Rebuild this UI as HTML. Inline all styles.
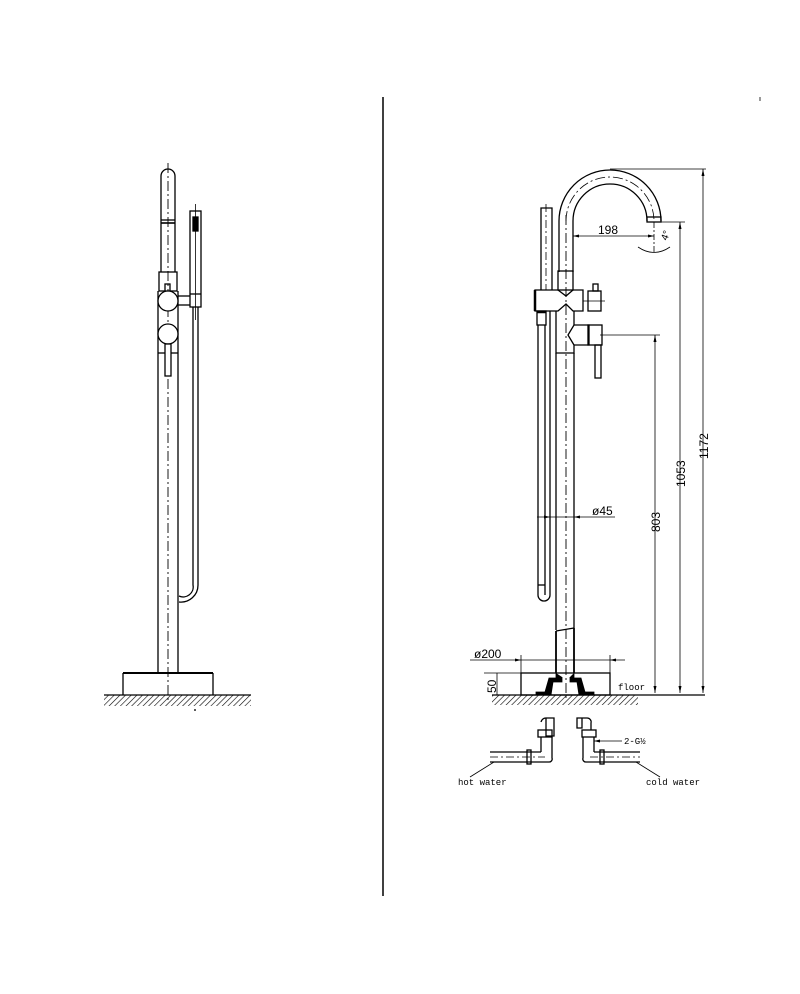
<!DOCTYPE html>
<html><head><meta charset="utf-8"><style>
html,body{margin:0;padding:0;background:#fff}
svg{display:block}
text{font-family:"Liberation Sans",sans-serif;fill:#000}
.m{font-family:"Liberation Mono",monospace}
</style></head><body>
<svg width="800" height="994" viewBox="0 0 800 994" xmlns="http://www.w3.org/2000/svg">
<defs>
<pattern id="h" width="4" height="4" patternUnits="userSpaceOnUse" patternTransform="rotate(45)">
<line x1="0" y1="0" x2="0" y2="4" stroke="#000" stroke-width="1.2"/>
</pattern>
</defs>
<g fill="none" stroke="#000" stroke-width="1.3">
<line x1="383" y1="97" x2="383" y2="896" stroke-width="1.5"/>
<line x1="760" y1="97" x2="760" y2="101" stroke-width="0.8"/>

<!-- LEFT VIEW -->
<line x1="168" y1="163" x2="168" y2="703" stroke-dasharray="10,3,2,3" stroke-width="0.9"/>
<path d="M161 272 V176 A7 7 0 0 1 175 176 V272"/>
<line x1="161" y1="220" x2="175" y2="220"/>
<line x1="161" y1="223" x2="175" y2="223" stroke-width="1.6"/>
<rect x="159" y="272" width="18" height="19"/>
<rect x="165" y="284" width="5" height="8"/>
<line x1="158" y1="291" x2="158" y2="673"/>
<line x1="178" y1="291" x2="178" y2="673"/>
<circle cx="168" cy="301" r="10" fill="#fff"/>
<circle cx="168" cy="334" r="10" fill="#fff"/>
<rect x="165" y="344" width="6" height="32" fill="#fff"/>
<line x1="158" y1="353" x2="165" y2="353"/>
<line x1="171" y1="353" x2="178" y2="353"/>
<rect x="190" y="211" width="11" height="96"/>
<rect x="193" y="217" width="5" height="14" fill="#000"/>
<line x1="195.5" y1="204" x2="195.5" y2="320" stroke-width="0.8"/>
<line x1="178" y1="296" x2="190" y2="296"/>
<line x1="178" y1="305" x2="190" y2="305"/>
<line x1="190" y1="294" x2="201" y2="294"/>
<path d="M193 307 V585 A10 10 0 0 1 179 596"/>
<path d="M198 307 V585 A17 17 0 0 1 179 602"/>
<line x1="123" y1="673" x2="213" y2="673" stroke-width="2"/>
<line x1="123" y1="673" x2="123" y2="695"/>
<line x1="213" y1="673" x2="213" y2="695"/>
<line x1="104" y1="695" x2="251" y2="695"/>
<rect x="104" y="695" width="147" height="11" fill="url(#h)" stroke="none"/>
<line x1="195" y1="709" x2="195" y2="711"/>

<!-- RIGHT VIEW -->
<line x1="566" y1="215" x2="566" y2="700" stroke-dasharray="10,3,2,3" stroke-width="0.9"/>
<path d="M559 272 V221 A51 51 0 0 1 661 221"/>
<path d="M573 272 V221 A37 37 0 0 1 647 221"/>
<path d="M566 221 A44 44 0 0 1 654 221" stroke-dasharray="10,3,2,3" stroke-width="0.8"/>
<rect x="647" y="217" width="14" height="5"/>
<line x1="654" y1="222" x2="654" y2="252" stroke-dasharray="6,2,2,2" stroke-width="0.8"/>
<path d="M638 247 Q654 258 670 247" stroke-width="0.8"/>
<line x1="573" y1="236" x2="654" y2="236" stroke-width="0.8"/>
<rect x="558" y="271" width="15" height="19"/>
<path d="M535 290 H558 L566 296 L573 290 H583 V311 H573 L566 304 L558 311 H535 Z"/>
<line x1="535" y1="290" x2="535" y2="311" stroke-width="2.5"/>
<rect x="588" y="291" width="13" height="20"/>
<rect x="593" y="284" width="5" height="7"/>
<line x1="583" y1="301" x2="605" y2="301" stroke-width="0.8"/>
<path d="M556 311 V353 H574 V345 H589 V325 H574 L568 335 L574 345"/>
<line x1="574" y1="311" x2="574" y2="325"/>
<rect x="588" y="325" width="14" height="20"/>
<rect x="595" y="345" width="6" height="33"/>
<line x1="600" y1="335" x2="660" y2="335" stroke-width="0.8"/>
<path d="M541 290 V208 H552 V290"/>
<line x1="546" y1="204" x2="546" y2="290" stroke-dasharray="8,3,2,3" stroke-width="0.8"/>
<rect x="537" y="311" width="9" height="14"/>
<line x1="537" y1="312" x2="546" y2="312" stroke-width="2.5"/>
<path d="M538 325 V595 A6 6 0 0 0 550 595 V311"/>
<line x1="545" y1="325" x2="545" y2="595"/>
<line x1="538" y1="585" x2="545" y2="585"/>
<line x1="556" y1="353" x2="556" y2="630"/>
<line x1="574" y1="353" x2="574" y2="628"/>
<line x1="556" y1="631" x2="574" y2="628"/>
<line x1="537" y1="517" x2="615" y2="517" stroke-width="0.8"/>
<line x1="556" y1="631" x2="556" y2="673" stroke-width="1.8"/>
<line x1="574" y1="628" x2="574" y2="673" stroke-width="1.8"/>
<line x1="470" y1="660" x2="625" y2="660" stroke-width="0.8"/>
<line x1="521" y1="655" x2="521" y2="673" stroke-width="0.8"/>
<line x1="610" y1="655" x2="610" y2="673" stroke-width="0.8"/>
<rect x="521" y="673" width="89" height="22"/>
<path d="M556 673 V678 H549 L545 692 H536 V695 H551 L553 682 H562 V677" fill="#000" stroke-width="0.8"/>
<path d="M574 673 V678 H581 L585 692 H594 V695 H579 L577 682 H570 V677" fill="#000" stroke-width="0.8"/>
<line x1="484" y1="673" x2="521" y2="673" stroke-width="0.8"/>
<line x1="497" y1="673" x2="497" y2="695" stroke-width="0.8"/>
<line x1="492" y1="695" x2="705" y2="695"/>
<rect x="492" y="695" width="146" height="10" fill="url(#h)" stroke="none"/>
<line x1="610" y1="169" x2="706" y2="169" stroke-width="0.8"/>
<line x1="703" y1="169" x2="703" y2="693" stroke-width="0.8"/>
<line x1="661" y1="222" x2="685" y2="222" stroke-width="0.8"/>
<line x1="680" y1="222" x2="680" y2="693" stroke-width="0.8"/>
<line x1="655" y1="335" x2="655" y2="693" stroke-width="0.8"/>
<path d="M546 718 h8 v18 h-8z M541 722 a5 5 0 0 1 5 -4"/>
<rect x="538" y="730" width="14" height="7"/>
<path d="M541 737 V752 M552 737 V758 A3 3 0 0 1 549 762 H490 M541 752 H490"/>
<line x1="490" y1="757" x2="545" y2="757" stroke-dasharray="8,3,2,3" stroke-width="0.7"/>
<rect x="527" y="750" width="4" height="14"/>
<path d="M577 718 h5 v10 h-5z M582 718 h5 a4 4 0 0 1 4 5 v7"/>
<rect x="582" y="730" width="14" height="7"/>
<path d="M594 737 V752 M583 737 V758 A3 3 0 0 0 586 762 H640 M594 752 H640"/>
<line x1="590" y1="757" x2="640" y2="757" stroke-dasharray="8,3,2,3" stroke-width="0.7"/>
<rect x="600" y="750" width="4" height="14"/>
<line x1="594" y1="741" x2="622" y2="741" stroke-width="0.8"/>
<line x1="494" y1="762" x2="470" y2="777" stroke-width="0.8"/>
<line x1="636" y1="762" x2="660" y2="777" stroke-width="0.8"/>
</g>
<g fill="#000">
<polygon points="573,236 579,234.5 579,237.5"/><polygon points="654,236 648,234.5 648,237.5"/>
<polygon points="703,169 701.5,176 704.5,176"/><polygon points="703,693 701.5,686 704.5,686"/>
<polygon points="680,222 678.5,229 681.5,229"/><polygon points="680,693 678.5,686 681.5,686"/>
<polygon points="655,335 653.5,342 656.5,342"/><polygon points="655,693 653.5,686 656.5,686"/>
<polygon points="550,517 544,515.5 544,518.5"/><polygon points="574,517 580,515.5 580,518.5"/>
<polygon points="521,660 515,658.5 515,661.5"/><polygon points="610,660 616,658.5 616,661.5"/>
<polygon points="594,741 600,739.5 600,742.5"/>
</g>
<text x="598" y="234" font-size="12">198</text>
<text x="592" y="515" font-size="12">ø45</text>
<text x="474" y="658" font-size="12">ø200</text>
<text transform="translate(667,241) rotate(-70)" font-size="10">4°</text>
<text transform="translate(660,532) rotate(-90)" font-size="12">803</text>
<text transform="translate(685,487) rotate(-90)" font-size="12">1053</text>
<text transform="translate(708,459) rotate(-90)" font-size="12">1172</text>
<text transform="translate(496,693) rotate(-90)" font-size="12">50</text>
<text class="m" x="618" y="690" font-size="9">floor</text>
<text class="m" x="624" y="744" font-size="9">2-G½</text>
<text class="m" x="458" y="785" font-size="9">hot water</text>
<text class="m" x="646" y="785" font-size="9">cold water</text>
</svg>
</body></html>
